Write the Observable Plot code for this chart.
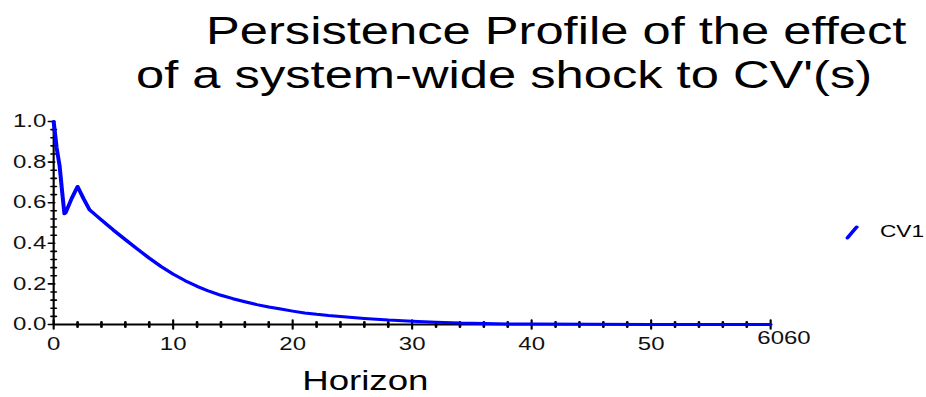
<!DOCTYPE html>
<html><head><meta charset="utf-8">
<script src="https://cdn.jsdelivr.net/npm/d3@7"></script>
<script src="https://cdn.jsdelivr.net/npm/@observablehq/plot@0.6"></script>
<style>
html,body{margin:0;padding:0;background:#fff;overflow:hidden}
#wrap{position:relative;width:694.5px;height:397px;transform:scaleX(1.3333);transform-origin:0 0;font-family:"Liberation Sans",Arial,sans-serif;color:#000}
.t{position:absolute;font-size:38px;white-space:nowrap;line-height:1}
#chart{position:absolute;left:0;top:100px}
#leg{position:absolute;left:634px;top:222px;font-size:17px;white-space:nowrap;line-height:1}
#leg svg{position:absolute;left:0;top:2px}
#leg span{position:absolute;left:26px;top:1px}
</style></head>
<body>
<div id="wrap">
  <div class="t" id="t1" style="left:154.5px;top:11.5px">Persistence Profile of the effect</div>
  <div class="t" id="t2" style="left:102px;top:55.5px">of a system-wide shock to CV'(s)</div>
  <div id="chart"></div>
  <div id="leg"><svg width="12" height="16"><line x1="1.5" y1="14" x2="8.5" y2="3" stroke="#0000ff" stroke-width="3" stroke-linecap="round"/></svg><span>CV1</span></div>
</div>
<script>
const horizon = [0, 0.25, 0.5, 0.7, 0.9, 1.0, 1.5, 2, 2.5, 3, 3.5, 4, 5, 6, 7, 8, 9, 10, 11, 12, 13, 14, 15, 16, 17, 18, 19, 20, 21, 22, 23, 24, 26, 28, 30, 32, 34, 36, 38, 40, 45, 50, 55, 60];
const cv1 = [1.0, 0.87, 0.78, 0.66, 0.545, 0.55, 0.62, 0.68, 0.62, 0.565, 0.54, 0.515, 0.465, 0.418, 0.372, 0.327, 0.285, 0.248, 0.216, 0.188, 0.164, 0.144, 0.127, 0.112, 0.098, 0.086, 0.076, 0.066, 0.057, 0.05, 0.044, 0.039, 0.03, 0.022, 0.016, 0.011, 0.007, 0.005, 0.003, 0.002, 0.001, 0.0005, 0.0002, 0.0001];
const yMajor = [0, 0.2, 0.4, 0.6, 0.8, 1.0];
const yMinor = [0.04, 0.08, 0.12, 0.16, 0.24, 0.28, 0.32, 0.36, 0.44, 0.48, 0.52, 0.56, 0.64, 0.68, 0.72, 0.76, 0.84, 0.88, 0.92, 0.96];
const xMajor = [0, 10, 20, 30, 40, 50, 60];
const xMinor = [2, 4, 6, 8, 12, 14, 16, 18, 22, 24, 26, 28, 32, 34, 36, 38, 42, 44, 46, 48, 52, 54, 56, 58];
const xTickLabels = ["0", "10", "20", "30", "40", "50"];
const xEndLabel = ["6060"];
const xTitle = ["Horizon"];

const data = horizon.map((h, i) => ({h, v: cv1[i]}));
const fs = 18;
const tickShape = {draw(c, l) { c.moveTo(0, 0); c.lineTo(0, -l); }};
const chart = Plot.plot({
  width: 694.5, height: 297,
  marginLeft: 39.75, marginRight: 117, marginTop: 21, marginBottom: 73,
  x: {domain: [0, 60]},
  y: {domain: [0, 1]},
  style: {fontFamily: "'Liberation Sans', Arial, sans-serif", fontSize: fs + "px", color: "#111", background: "transparent", overflow: "visible"},
  marks: [
    Plot.vector(yMinor, {x: () => 0, y: d => d, length: 3.8, rotate: 90, anchor: "middle", shape: tickShape, stroke: "#000", strokeWidth: 1.6}),
    Plot.vector(yMajor, {x: () => 0, y: d => d, length: 4.5, rotate: 90, anchor: "middle", dx: -1.6, shape: tickShape, stroke: "#000", strokeWidth: 1.6}),
    Plot.axisY(yMajor, {tickSize: 0, tickPadding: 5.5, tickFormat: d => d.toFixed(1), stroke: "none", fill: "#111", label: null}),
    Plot.vector(xMinor, {x: d => d, y: () => 0, length: 5, rotate: 0, anchor: "middle", shape: tickShape, stroke: "#000", strokeWidth: 2}),
    Plot.vector(xMajor, {x: d => d, y: () => 0, length: 9, rotate: 0, anchor: "middle", shape: tickShape, stroke: "#000", strokeWidth: 1.6}),
    Plot.axisX(xMajor.slice(0, -1), {tickSize: 0, tickPadding: 12.6, tickFormat: (d, i) => xTickLabels[i], stroke: "none", fill: "#111", label: null}),
    Plot.text(xEndLabel, {x: () => 60, frameAnchor: "bottom", textAnchor: "start", dx: -10, dy: 19.2, fill: "#111", fontSize: fs}),
    Plot.ruleY([0], {stroke: "#000", strokeWidth: 2}),
    Plot.ruleX([0], {stroke: "#000", strokeWidth: 1.6}),
    Plot.line(data, {x: "h", y: "v", stroke: "#0000ff", strokeWidth: 3}),
    Plot.text(xTitle, {frameAnchor: "bottom-left", textAnchor: "middle", dx: 233.75, dy: 65, fontSize: 27.5, fill: "#000"})
  ]
});
document.getElementById("chart").appendChild(chart);
</script>
</body></html>
